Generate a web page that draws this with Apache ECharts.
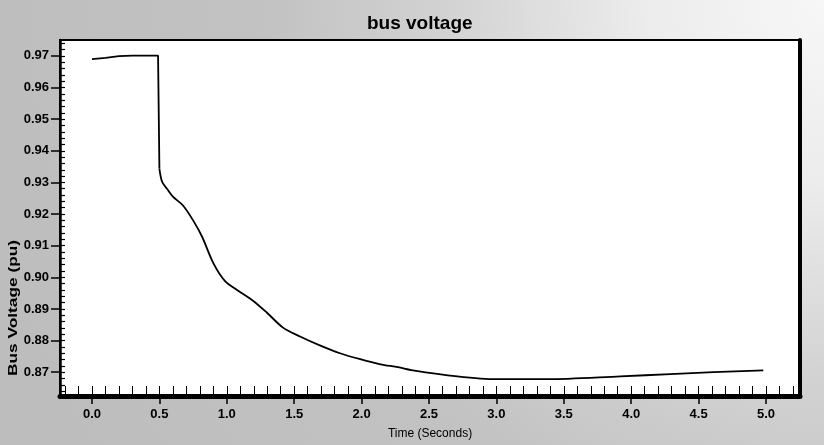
<!DOCTYPE html>
<html>
<head>
<meta charset="utf-8">
<script src="https://cdn.jsdelivr.net/npm/echarts@6/dist/echarts.min.js"></script>
<style>
  html, body { margin: 0; padding: 0; }
  body {
    width: 824px; height: 445px; overflow: hidden;
    background: radial-gradient(circle at 100% 0%, #f7f7f7 0px, #ececec 180px, #d2d2d2 380px, #c2c2c2 560px, #bdbdbd 900px);
  }
  #chart { width: 824px; height: 445px; }
</style>
</head>
<body>
<div id="chart"></div>
<script>
// ---- data ----
// before and at the fault (t <= 0.5 s), including the vertical drop
const timePre = [0.00, 0.10, 0.20, 0.30, 0.40, 0.49, 0.50, 0.50];
const voltPre = [0.9690, 0.9694, 0.9699, 0.9701, 0.9701, 0.9701, 0.9701, 0.9343];
// after the fault (t >= 0.5 s)
const timePost = [0.50, 0.52, 0.556, 0.60, 0.675, 0.75, 0.816, 0.90, 0.987,
                  1.076, 1.194, 1.298, 1.417, 1.543, 1.69, 1.84, 1.99, 2.14, 2.27, 2.38, 2.71, 3.00, 3.375, 3.92, 4.29, 4.61, 4.98];
const voltPost = [0.9343, 0.9302, 0.9280, 0.9255, 0.9227, 0.9180, 0.9129, 0.9045, 0.8988,
                  0.8960, 0.8926, 0.8888, 0.8841, 0.8813, 0.8785, 0.8760, 0.8741, 0.8725, 0.8716, 0.8706, 0.8687, 0.8678, 0.8678, 0.8687, 0.8694, 0.8700, 0.8706];
const xTickValues = [0.0, 0.5, 1.0, 1.5, 2.0, 2.5, 3.0, 3.5, 4.0, 4.5, 5.0];
const yTickValues = [0.87, 0.88, 0.89, 0.90, 0.91, 0.92, 0.93, 0.94, 0.95, 0.96, 0.97];
const titleText = 'bus voltage';
const xName = 'Time (Seconds)';
const yName = 'Bus Voltage (pu)';

// axis extents
const X_MIN = -0.2374, X_MAX = 5.2522;
const Y_MIN = 0.86248, Y_MAX = 0.97502;

// minor tick positions (0.1 s and 0.002 pu)
const xMinor = [];
for (let i = -2; i <= 52; i++) xMinor.push(+(i * 0.1).toFixed(2));
const yMinor = [];
for (let i = 432; i <= 487; i++) yMinor.push(+(i * 0.002).toFixed(4));

const preData = timePre.map((t, i) => [t, voltPre[i]]);
const postData = timePost.map((t, i) => [t, voltPost[i]]);

const chart = echarts.init(document.getElementById('chart'), null, { renderer: 'canvas' });
const labelFont = { color: '#000', fontFamily: '"Liberation Sans Narrow", "Liberation Sans", Arial, sans-serif', fontWeight: 'bold', fontSize: 13 };

chart.setOption({
  backgroundColor: 'transparent',
  animation: false,
  title: {
    text: titleText,
    left: 362, top: 9,
    textStyle: { fontFamily: '"Liberation Sans", Arial, sans-serif', fontWeight: 'bold', fontSize: 19, color: '#000' }
  },
  grid: {
    left: 60, right: 24, top: 40, bottom: 46,
    show: true, backgroundColor: '#ffffff', borderColor: '#000', borderWidth: 2
  },
  xAxis: [
    {
      type: 'value', position: 'bottom', min: X_MIN, max: X_MAX,
      axisLine: { onZero: false, lineStyle: { color: '#000', width: 5 } },
      axisTick: { show: true, inside: false, length: 8, customValues: xTickValues, lineStyle: { color: '#000', width: 1.5 } },
      axisLabel: Object.assign({ customValues: xTickValues, margin: 12, formatter: v => v.toFixed(1) }, labelFont),
      splitLine: { show: false },
      name: xName, nameLocation: 'middle', nameGap: 32,
      nameTextStyle: { color: '#000', fontFamily: '"Liberation Sans", Arial, sans-serif', fontSize: 12 }
    },
    {
      type: 'value', position: 'bottom', min: X_MIN, max: X_MAX,
      axisLine: { show: false, onZero: false },
      axisTick: { show: true, inside: true, length: 10, customValues: xMinor, lineStyle: { color: '#000', width: 1 } },
      axisLabel: { show: false },
      splitLine: { show: false }
    }
  ],
  yAxis: [
    {
      type: 'value', position: 'left', min: Y_MIN, max: Y_MAX,
      axisLine: { show: true, onZero: false, lineStyle: { color: '#000', width: 2.5 } },
      axisTick: { show: true, inside: false, length: 9, customValues: yTickValues, lineStyle: { color: '#000', width: 1.5 } },
      axisLabel: Object.assign({ customValues: yTickValues, margin: 11, formatter: v => v.toFixed(2) }, labelFont),
      splitLine: { show: false }
    },
    {
      type: 'value', position: 'left', min: Y_MIN, max: Y_MAX,
      axisLine: { show: false, onZero: false },
      axisTick: { show: true, inside: true, length: 5, customValues: yMinor, lineStyle: { color: '#000', width: 1.2 } },
      axisLabel: { show: false },
      splitLine: { show: false }
    },
    {
      type: 'value', position: 'right', min: Y_MIN, max: Y_MAX,
      axisLine: { show: true, onZero: false, lineStyle: { color: '#000', width: 4 } },
      axisTick: { show: false },
      axisLabel: { show: false },
      splitLine: { show: false }
    }
  ],
  graphic: [
    {
      type: 'text', x: 13, y: 308, rotation: Math.PI / 2, scaleX: 1.33,
      style: { text: yName, font: 'bold 13px "Liberation Sans", Arial, sans-serif', fill: '#000', align: 'center', verticalAlign: 'middle' }
    }
  ],
  series: [
    {
      type: 'line', xAxisIndex: 0, yAxisIndex: 0,
      data: preData, showSymbol: false, smooth: false,
      lineStyle: { color: '#000', width: 1.8 }
    },
    {
      type: 'line', xAxisIndex: 0, yAxisIndex: 0,
      data: postData, showSymbol: false, smooth: 0.3,
      lineStyle: { color: '#000', width: 1.8 }
    }
  ]
});
</script>
</body>
</html>
